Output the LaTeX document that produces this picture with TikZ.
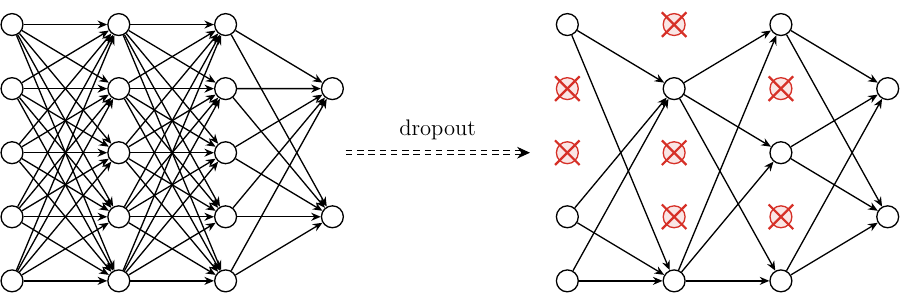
\documentclass[tikz,border=0pt]{standalone}
\usetikzlibrary{arrows.meta}
\definecolor{dropred}{RGB}{214,48,39}
\begin{document}
\begin{tikzpicture}[
  neuron/.style={draw, line width=0.7pt, circle, fill=white, minimum size=0.41cm, inner sep=0pt},
  dropped/.style={draw=dropred, line width=0.7pt, circle, fill=dropred!12, minimum size=0.41cm, inner sep=0pt},
  crossline/.style={dropred, line width=1.2pt},
  arrow/.style={-{Stealth[length=1.8mm, width=1.5mm]}, line width=0.7pt}
]
\useasboundingbox (-0.225,-0.225) rectangle (16.63,5.26);

% full network
\foreach \l in {1,2,3}
  \foreach \r in {1,...,5}
    \node[neuron] (L-\l-\r) at ({2*(\l-1)},{1.2*(5-\r)}) {};
\node[neuron] (L-4-1) at (6,3.6) {};
\node[neuron] (L-4-2) at (6,1.2) {};

\foreach \a in {1,...,5}
  \foreach \b in {1,...,5} {
    \draw[arrow] (L-1-\a) -- (L-2-\b);
    \draw[arrow] (L-2-\a) -- (L-3-\b);
  }
\foreach \a in {1,...,5}
  \foreach \b in {1,2}
    \draw[arrow] (L-3-\a) -- (L-4-\b);

% dropout arrow
\node[font=\large] (drop) at (7.97,2.82) {dropout};
\coordinate (ds) at (6.25,2.4);
\coordinate (de) at (9.7,2.4);
\draw[double, line width=0.6pt, double distance=1.5pt, dash pattern=on 3.5pt off 2.5pt, -{Stealth[length=2.4mm, width=2.2mm]}] (ds) -- (de);

% thinned network
\foreach \l/\r in {1/1,1/4,1/5,2/2,2/5,3/1,3/3,3/5}
  \node[neuron] (R-\l-\r) at ({10.4+2*(\l-1)},{1.2*(5-\r)}) {};
\node[neuron] (R-4-1) at (16.4,3.6) {};
\node[neuron] (R-4-2) at (16.4,1.2) {};
\foreach \l/\r in {1/2,1/3,2/1,2/3,2/4,3/2,3/4} {
  \node[dropped] (R-\l-\r) at ({10.4+2*(\l-1)},{1.2*(5-\r)}) {};
  \draw[crossline] ([shift={(-0.23,-0.23)}]R-\l-\r.center) -- ([shift={(0.23,0.23)}]R-\l-\r.center);
  \draw[crossline] ([shift={(-0.23,0.23)}]R-\l-\r.center) -- ([shift={(0.23,-0.23)}]R-\l-\r.center);
}

\foreach \a in {1,4,5}
  \foreach \b in {2,5}
    \draw[arrow] (R-1-\a) -- (R-2-\b);
\foreach \a in {2,5}
  \foreach \b in {1,3,5}
    \draw[arrow] (R-2-\a) -- (R-3-\b);
\foreach \a in {1,3,5}
  \foreach \b in {1,2}
    \draw[arrow] (R-3-\a) -- (R-4-\b);
\end{tikzpicture}
\end{document}
